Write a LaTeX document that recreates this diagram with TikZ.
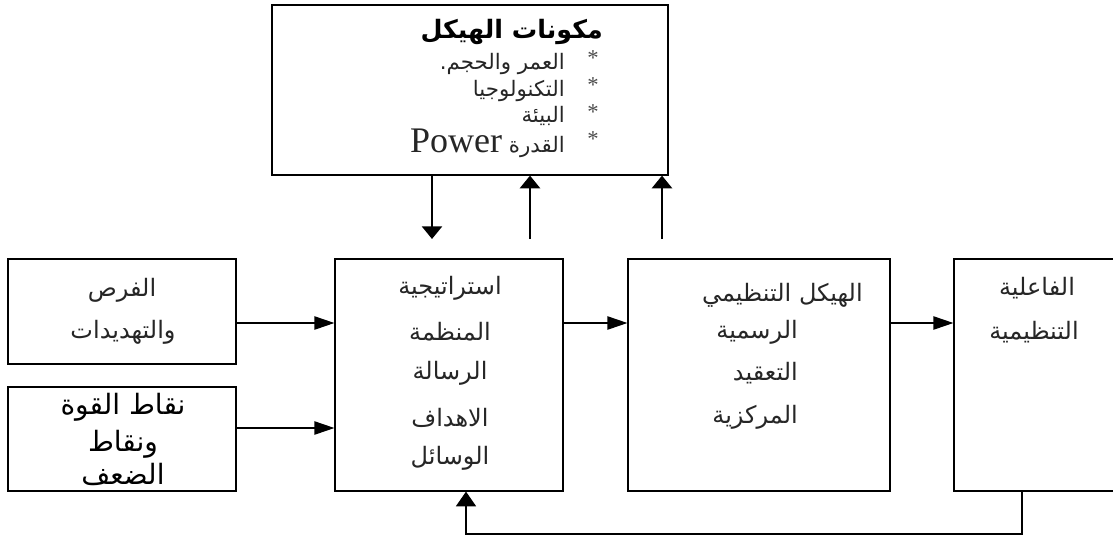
\documentclass[tikz,border=0pt]{standalone}
\usepackage{fontspec}
\usetikzlibrary{arrows.meta}
\TeXXeTstate=1
\newfontfamily\arabicfont[Script=Arabic]{DejaVu Sans}
\newfontfamily\latinserif{Liberation Serif}
\newcommand{\artxt}[1]{\beginR #1\endR}
\begin{document}
\begin{tikzpicture}[x=0.75pt,y=-0.75pt,
  box/.style={draw, line width=0.9pt, rectangle, inner sep=0pt},
  harr/.style={line width=0.9pt, -{Triangle[length=15pt,width=10pt]}},
  varr/.style={line width=1.8pt, -{Triangle[length=9.5pt,width=15pt]}},
  farr/.style={line width=1pt, -{Triangle[length=11pt,width=15pt]}},
  reg/.style={font=\arabicfont\fontsize{18}{20}\selectfont, text=black!85, inner sep=0pt},
  toptxt/.style={font=\arabicfont\fontsize{16}{18}\selectfont, text=black!85, inner sep=0pt},
  big/.style={font=\arabicfont\fontsize{21}{23}\selectfont, text=black, inner sep=0pt},
  title/.style={font=\arabicfont\bfseries\fontsize{19}{21}\selectfont, text=black, inner sep=0pt},
  star/.style={font=\latinserif\fontsize{17}{19}\selectfont, text=black!70, inner sep=0pt}
]
\useasboundingbox (0,0) rectangle (1113,536);
% boxes
\node[box, minimum width=297pt, minimum height=127.5pt] (top) at (470,90) {};
\node[box, minimum width=171pt, minimum height=78.75pt] (b1) at (122,311.5) {};
\node[box, minimum width=171pt, minimum height=78pt] (b2) at (122,439) {};
\node[box, minimum width=171pt, minimum height=174pt] (strat) at (449,375) {};
\node[box, minimum width=196.5pt, minimum height=174pt] (struct) at (759,375) {};
\node[box, minimum width=128.25pt, minimum height=174pt] (eff) at (1039.5,375) {};
% top box text
\node[title, anchor=east] (t0) at (603,32) {\artxt{مكونات الهيكل}};
\node[star] (s1) at (593,58) {*};
\node[star] (s2) at (593,85) {*};
\node[star] (s3) at (593,112) {*};
\node[star] (s4) at (593,139) {*};
\node[reg, toptxt, anchor=east] (t1) at (565,64) {\artxt{العمر والحجم.}};
\node[reg, toptxt, anchor=east] (t2) at (565,91) {\artxt{التكنولوجيا}};
\node[reg, toptxt, anchor=east] (t3) at (565,116) {\artxt{البيئة}};
\node[reg, toptxt, anchor=east] (t4) at (565,143) {\artxt{القدرة \beginL{\latinserif\fontsize{27}{29}\selectfont Power}\endL}};
% left boxes text
\node[reg] (o1) at (122,290) {\artxt{الفرص}};
\node[reg] (o2) at (123,332) {\artxt{والتهديدات}};
\node[big] (w1) at (123,407) {\artxt{نقاط القوة}};
\node[big] (w2) at (123,444) {\artxt{ونقاط}};
\node[big] (w3) at (123,474) {\artxt{الضعف}};
% strategy text
\node[reg] (g1) at (450,288) {\artxt{استراتيجية}};
\node[reg] (g2) at (450,332) {\artxt{المنظمة}};
\node[reg] (g3) at (450,373) {\artxt{الرسالة}};
\node[reg] (g4) at (450,418) {\artxt{الاهداف}};
\node[reg] (g5) at (450,458) {\artxt{الوسائل}};
% structure text
\node[reg, anchor=east] (h1) at (863,295) {\artxt{الهيكل التنظيمي}};
\node[reg, anchor=east] (h2) at (798,332) {\artxt{الرسمية}};
\node[reg, anchor=east] (h3) at (798,373) {\artxt{التعقيد}};
\node[reg, anchor=east] (h4) at (798,417) {\artxt{المركزية}};
% effectiveness text
\node[reg] (e1) at (1037,288) {\artxt{الفاعلية}};
\node[reg] (e2) at (1034,332) {\artxt{التنظيمية}};
% coordinates
\coordinate (d1) at (432,239);
\coordinate (u1) at (530,239);
\coordinate (u2) at (662,239);
\coordinate (ya) at (0,323);
\coordinate (yb) at (0,428);
\coordinate (fb1) at (1022,534);
\coordinate (fb2) at (466,534);
% vertical arrows
\draw[varr] (top.south -| d1) -- (d1);
\draw[varr] (u1) -- (top.south -| u1);
\draw[varr] (u2) -- (top.south -| u2);
% horizontal arrows
\draw[harr] (b1.east |- ya) -- (strat.west |- ya);
\draw[harr] (b2.east |- yb) -- (strat.west |- yb);
\draw[harr] (strat.east |- ya) -- (struct.west |- ya);
\draw[harr] (struct.east |- ya) -- (eff.west |- ya);
% feedback
\draw[farr] (eff.south -| fb1) -- (fb1) -- (fb2) -- (strat.south -| fb2);
\end{tikzpicture}
\end{document}
